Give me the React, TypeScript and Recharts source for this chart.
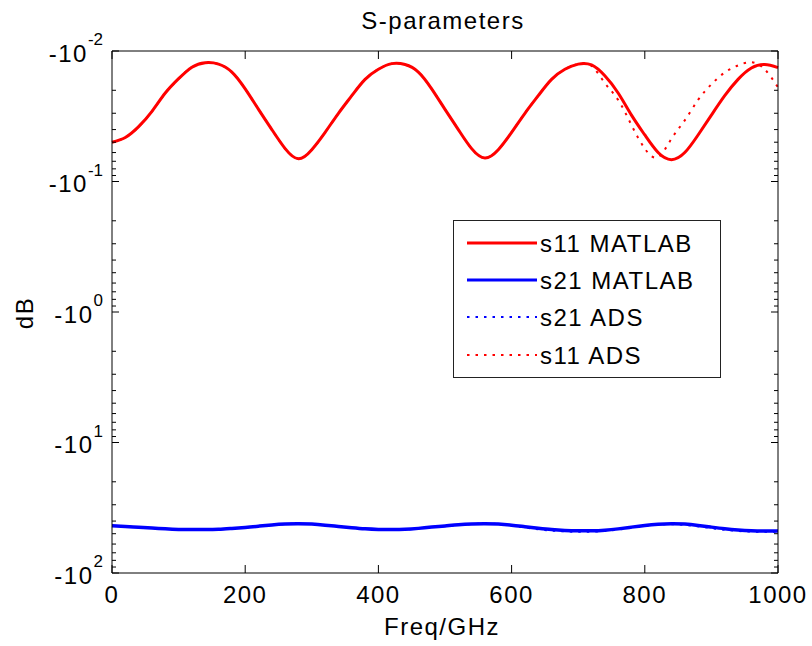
import React from 'react';
import { LineChart, Line, XAxis, YAxis, Legend, Label } from 'recharts';

// Frequency samples (GHz)
const freqGHz = [
  0, 20, 40, 60, 80, 100, 120, 140, 160, 180, 200, 220, 240, 260, 280, 300, 320, 340, 360, 380,
  400, 420, 440, 460, 480, 500, 520, 540, 560, 580, 600, 620, 640, 660, 680, 700, 720, 740, 760, 780,
  800, 820, 840, 860, 880, 900, 920, 940, 960, 980, 1000,
];

// dB values
const s11Matlab = [
  -0.050, -0.046, -0.038, -0.029, -0.021, -0.0163, -0.0133, -0.0123, -0.0126, -0.0145,
  -0.0195, -0.028, -0.040, -0.056, -0.067, -0.057, -0.042, -0.030, -0.022, -0.0165,
  -0.0138, -0.0125, -0.0127, -0.0145, -0.0195, -0.028, -0.040, -0.056, -0.066, -0.057,
  -0.042, -0.030, -0.022, -0.0165, -0.0138, -0.0126, -0.0128, -0.0155, -0.021, -0.031,
  -0.044, -0.060, -0.068, -0.060, -0.044, -0.031, -0.022, -0.0165, -0.0135, -0.0127, -0.0134,
];

const s11Ads = [
  -0.050, -0.046, -0.038, -0.029, -0.021, -0.0163, -0.0133, -0.0123, -0.0126, -0.0145,
  -0.0195, -0.028, -0.040, -0.056, -0.067, -0.057, -0.042, -0.030, -0.022, -0.0165,
  -0.0138, -0.0125, -0.0127, -0.0145, -0.0195, -0.028, -0.040, -0.056, -0.066, -0.057,
  -0.042, -0.030, -0.022, -0.0165, -0.0138, -0.0126, -0.0130, -0.0176, -0.0237, -0.037,
  -0.056, -0.065, -0.047, -0.034, -0.0237, -0.018, -0.0146, -0.0129, -0.0122, -0.0138, -0.019,
];

const s21Matlab = [
  -43.5, -44.0, -44.6, -45.2, -45.9, -46.4, -46.5, -46.5, -46.3, -45.6,
  -44.8, -43.8, -42.8, -42.1, -41.9, -42.2, -43.0, -44.0, -45.0, -45.9,
  -46.4, -46.5, -46.3, -45.5, -44.5, -43.6, -42.7, -42.1, -41.9, -42.2,
  -43.0, -44.2, -45.4, -46.5, -47.2, -47.5, -47.5, -47.0, -45.9, -44.5,
  -43.2, -42.3, -41.9, -42.2, -43.2, -44.5, -45.8, -46.8, -47.4, -47.6, -47.6,
];

const s21Ads = [
  -43.5, -44.0, -44.6, -45.2, -45.9, -46.4, -46.5, -46.5, -46.3, -45.6,
  -44.8, -43.8, -42.8, -42.1, -41.9, -42.2, -43.0, -44.0, -45.0, -45.9,
  -46.4, -46.5, -46.3, -45.5, -44.5, -43.6, -42.7, -42.1, -41.9, -42.2,
  -43.2, -44.8, -46.2, -47.3, -48.0, -48.3, -48.2, -47.6, -46.5, -45.0,
  -43.6, -42.6, -42.3, -42.8, -43.9, -45.3, -46.6, -47.6, -48.2, -48.4, -48.3,
];

const xTicks = [0, 200, 400, 600, 800, 1000];
const decadeExponents = [-2, -1, 0, 1, 2];
const minorMultipliers = [1, 2, 3, 4, 5, 6, 7, 8, 9];
const legendOrder = ['s11 MATLAB', 's21 MATLAB', 's21 ADS', 's11 ADS'];

const chartTitle = 'S-parameters';
const xLabel = 'Freq/GHz';
const yLabel = 'dB';

// y-axis shows |dB| on a reversed log scale, labelled as negative powers of ten
const yTicks: number[] = [];
decadeExponents.forEach((e, i) => {
  if (i === decadeExponents.length - 1) {
    yTicks.push(Math.pow(10, e));
  } else {
    minorMultipliers.forEach((m) => yTicks.push(parseFloat((m * Math.pow(10, e)).toPrecision(6))));
  }
});

const data = freqGHz.map((f, i) => ({
  f,
  s11m: Math.abs(s11Matlab[i]),
  s21m: Math.abs(s21Matlab[i]),
  s21a: Math.abs(s21Ads[i]),
  s11a: Math.abs(s11Ads[i]),
}));

const FONT = '"Liberation Sans", Arial, Helvetica, sans-serif';
const DOTS = '2.5 6';

const isMajor = (v: number) => {
  const e = Math.log10(v);
  return Math.abs(e - Math.round(e)) < 1e-6;
};

const BottomTick = (props: any) => {
  const { x, y, payload } = props;
  return (
    <g>
      <line x1={x} y1={y} x2={x} y2={y - 8} stroke="#000" strokeWidth={1} />
      <text x={x} y={y + 30} textAnchor="middle" fontFamily={FONT} fontSize={24} letterSpacing={1.5} fill="#000">
        {payload.value}
      </text>
    </g>
  );
};

const TopTick = (props: any) => {
  const { x, y } = props;
  return <line x1={x} y1={y} x2={x} y2={y + 8} stroke="#000" strokeWidth={1} />;
};

const LeftTick = (props: any) => {
  const { x, y, payload } = props;
  const v = payload.value;
  const major = isMajor(v);
  const e = Math.round(Math.log10(v));
  return (
    <g>
      <line x1={x} y1={y} x2={x + (major ? 7 : 4)} y2={y} stroke="#000" strokeWidth={1} />
      {major && (
        <text x={x - 9} y={y + 10.5} textAnchor="end" fontFamily={FONT} fill="#000">
          <tspan fontSize={24} letterSpacing={1.5}>-10</tspan>
          <tspan fontSize={17} dy={-16.5}>{String(e)}</tspan>
        </text>
      )}
    </g>
  );
};

const RightTick = (props: any) => {
  const { x, y, payload } = props;
  const major = isMajor(payload.value);
  return <line x1={x} y1={y} x2={x - (major ? 7 : 4)} y2={y} stroke="#000" strokeWidth={1} />;
};

const LegendBox = (props: any) => {
  const payload = (props.payload || []).slice();
  payload.sort((a: any, b: any) => legendOrder.indexOf(a.value) - legendOrder.indexOf(b.value));
  const rows = [23, 60, 97, 135];
  return (
    <div
      style={{
        width: 268,
        height: 158,
        boxSizing: 'border-box',
        border: '1px solid #222',
        background: '#fff',
      }}
    >
      <svg width={266} height={156} style={{ display: 'block' }}>
        {payload.map((entry: any, i: number) => {
          const yy = rows[i] - 1;
          const dash = entry.payload && entry.payload.strokeDasharray;
          return (
            <g key={entry.value}>
              <line
                x1={13}
                y1={yy}
                x2={83}
                y2={yy}
                stroke={entry.color}
                strokeWidth={dash ? 2 : 3}
                strokeDasharray={dash || undefined}
              />
              <text x={86} y={yy + 9} fontFamily={FONT} fontSize={24} letterSpacing={1.5} fill="#000">
                {entry.value}
              </text>
            </g>
          );
        })}
      </svg>
    </div>
  );
};

export default function App() {
  return (
    <div style={{ position: 'absolute', left: 0, top: 0, width: 812, height: 646, background: '#fff' }}>
      <LineChart width={812} height={646} data={data} margin={{ top: 41, right: 24, bottom: 33, left: 52 }}>
        <XAxis
          xAxisId="t"
          orientation="top"
          dataKey="f"
          type="number"
          domain={[0, 1000]}
          ticks={xTicks}
          interval={0}
          height={10}
          tickSize={0}
          tickMargin={0}
          tickLine={false}
          axisLine={{ stroke: '#000' }}
          tick={<TopTick />}
        >
          <Label
            content={() => (
              <text x={443} y={29} textAnchor="middle" fontFamily={FONT} fontSize={24} letterSpacing={1.5} fill="#000">
                {chartTitle}
              </text>
            )}
          />
        </XAxis>
        <XAxis
          xAxisId="b"
          orientation="bottom"
          dataKey="f"
          type="number"
          domain={[0, 1000]}
          ticks={xTicks}
          interval={0}
          height={40}
          tickSize={0}
          tickMargin={0}
          tickLine={false}
          axisLine={{ stroke: '#000' }}
          tick={<BottomTick />}
        >
          <Label
            content={() => (
              <text x={442} y={635} textAnchor="middle" fontFamily={FONT} fontSize={24} letterSpacing={1.5} fill="#000">
                {xLabel}
              </text>
            )}
          />
        </XAxis>
        <YAxis
          yAxisId="l"
          orientation="left"
          type="number"
          scale="log"
          domain={[0.01, 100]}
          allowDataOverflow
          reversed
          ticks={yTicks}
          interval={0}
          width={60}
          tickSize={0}
          tickMargin={0}
          tickLine={false}
          axisLine={{ stroke: '#000' }}
          tick={<LeftTick />}
        >
          <Label
            content={() => (
              <text
                x={33}
                y={313}
                textAnchor="middle"
                transform="rotate(-90 33 313)"
                fontFamily={FONT}
                fontSize={24}
                letterSpacing={1.5}
                fill="#000"
              >
                {yLabel}
              </text>
            )}
          />
        </YAxis>
        <YAxis
          yAxisId="r"
          orientation="right"
          type="number"
          scale="log"
          domain={[0.01, 100]}
          allowDataOverflow
          reversed
          ticks={yTicks}
          interval={0}
          width={10}
          tickSize={0}
          tickMargin={0}
          tickLine={false}
          axisLine={{ stroke: '#000' }}
          tick={<RightTick />}
        />
        <Line
          xAxisId="b"
          yAxisId="l"
          type="natural"
          dataKey="s11m"
          name="s11 MATLAB"
          stroke="#ff0000"
          strokeWidth={3}
          dot={false}
          isAnimationActive={false}
        />
        <Line
          xAxisId="b"
          yAxisId="l"
          type="natural"
          dataKey="s21m"
          name="s21 MATLAB"
          stroke="#0000ff"
          strokeWidth={3.5}
          dot={false}
          isAnimationActive={false}
        />
        <Line
          xAxisId="b"
          yAxisId="l"
          type="natural"
          dataKey="s21a"
          name="s21 ADS"
          stroke="#0000ff"
          strokeWidth={2}
          strokeDasharray={DOTS}
          dot={false}
          isAnimationActive={false}
        />
        <Line
          xAxisId="b"
          yAxisId="l"
          type="natural"
          dataKey="s11a"
          name="s11 ADS"
          stroke="#ff0000"
          strokeWidth={2}
          strokeDasharray={DOTS}
          dot={false}
          isAnimationActive={false}
        />
        <Legend
          layout="vertical"
          align="center"
          verticalAlign="middle"
          content={<LegendBox />}
          wrapperStyle={{ left: 453, top: 220, width: 268, height: 158 }}
        />
      </LineChart>
    </div>
  );
}
